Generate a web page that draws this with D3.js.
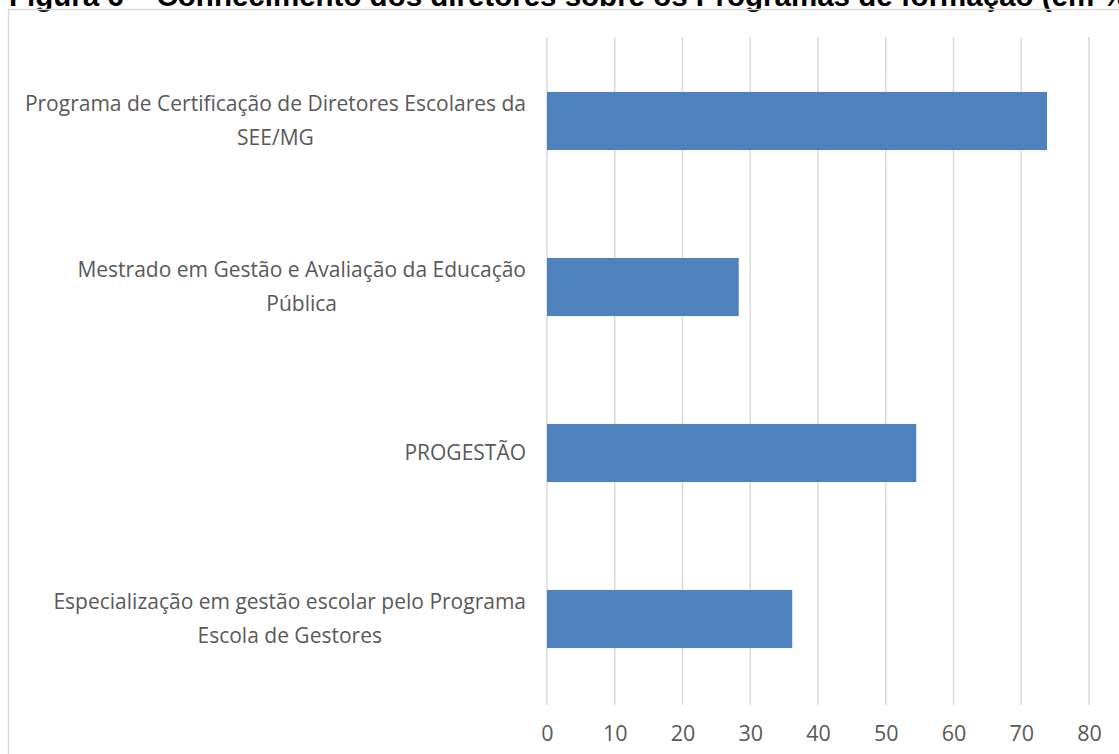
<!DOCTYPE html>
<html>
<head>
<meta charset="utf-8">
<script src="https://cdn.jsdelivr.net/npm/d3@7"></script>
<style>
  body { margin: 0; background: #fff; }
  svg { display: block; }
</style>
</head>
<body>
<div id="chart"></div>
<script>
// data (percent)
var programas = [
    ["Programa de Certificação de Diretores Escolares da", "SEE/MG"],
    ["Mestrado em Gestão e Avaliação da Educação", "Pública"],
    ["PROGESTÃO"],
    ["Especialização em gestão escolar pelo Programa", "Escola de Gestores"]
];
var valores = [73.8, 28.3, 54.5, 36.2];
var xTicks = [0, 10, 20, 30, 40, 50, 60, 70, 80];
var titulo = "Figura 6 – Conhecimento dos diretores sobre os Programas de formação (em %)";

var width = 1119, height = 754;
var margin = { left: 547, right: 30, top: 38, bottom: 52 };

var svg = d3.select("#chart").append("svg")
    .attr("width", width)
    .attr("height", height);

// title, cut off by the top edge as in the scan
svg.append("text")
    .attr("x", 9)
    .attr("y", 6)
    .style("font-family", "Liberation Sans, Arial, sans-serif")
    .style("font-weight", "bold")
    .style("font-size", "29.5px")
    .attr("fill", "#000")
    .text(titulo);

// chart frame
svg.append("rect")
    .attr("x", 8.5).attr("y", 9.5)
    .attr("width", width + 20).attr("height", height + 20)
    .attr("fill", "none")
    .attr("stroke", "#d9d9d9")
    .attr("stroke-width", 1.5);

var keys = programas.map(function (d, i) { return i; });

var x = d3.scaleLinear().domain([0, 80]).range([margin.left, 1089]);
var y = d3.scaleBand().domain(keys)
    .range([margin.top, height - margin.bottom])
    .paddingInner(0.65).paddingOuter(0.325);

// vertical gridlines
svg.append("g")
    .selectAll("line")
    .data(xTicks)
    .join("line")
    .attr("x1", function (d) { return x(d); })
    .attr("x2", function (d) { return x(d); })
    .attr("y1", margin.top - 1)
    .attr("y2", height - margin.bottom + 3)
    .attr("stroke", "#d9d9d9")
    .attr("stroke-width", 1.5);

// bars
svg.append("g")
    .selectAll("rect")
    .data(valores)
    .join("rect")
    .attr("x", x(0))
    .attr("y", function (d, i) { return y(i); })
    .attr("width", function (d) { return x(d) - x(0); })
    .attr("height", y.bandwidth())
    .attr("fill", "#4f81bd");

// x axis labels
var xAxis = d3.axisBottom(x).tickValues(xTicks).tickSize(0).tickPadding(0);
var gx = svg.append("g")
    .attr("transform", "translate(0," + (height - margin.bottom + 31) + ")")
    .call(xAxis);
gx.select(".domain").remove();
gx.selectAll("text")
    .style("font-family", "Open Sans, sans-serif")
    .style("font-size", "21.5px")
    .attr("fill", "#595959")
    .attr("dy", "0.35em")
    .attr("y", 0);

// category labels, centred block ending near the axis, centred on each bar
var lineGap = 34;
var labels = svg.append("g")
    .selectAll("text")
    .data(programas)
    .join("text")
    .attr("text-anchor", "middle")
    .style("font-family", "Open Sans, sans-serif")
    .style("font-size", "21px")
    .attr("fill", "#595959")
    .attr("transform", function (d, i) {
        return "translate(0," + (y(i) + y.bandwidth() / 2) + ")";
    });

labels.each(function (lines) {
    var t = d3.select(this);
    var n = lines.length;
    lines.forEach(function (s, k) {
        t.append("tspan")
            .attr("y", (k - (n - 1) / 2) * lineGap)
            .attr("dy", "0.35em")
            .text(s);
    });
    var w = d3.max(t.selectAll("tspan").nodes(), function (n) { return n.getComputedTextLength(); });
    t.selectAll("tspan").attr("x", 526 - w / 2);
});
</script>
</body>
</html>
